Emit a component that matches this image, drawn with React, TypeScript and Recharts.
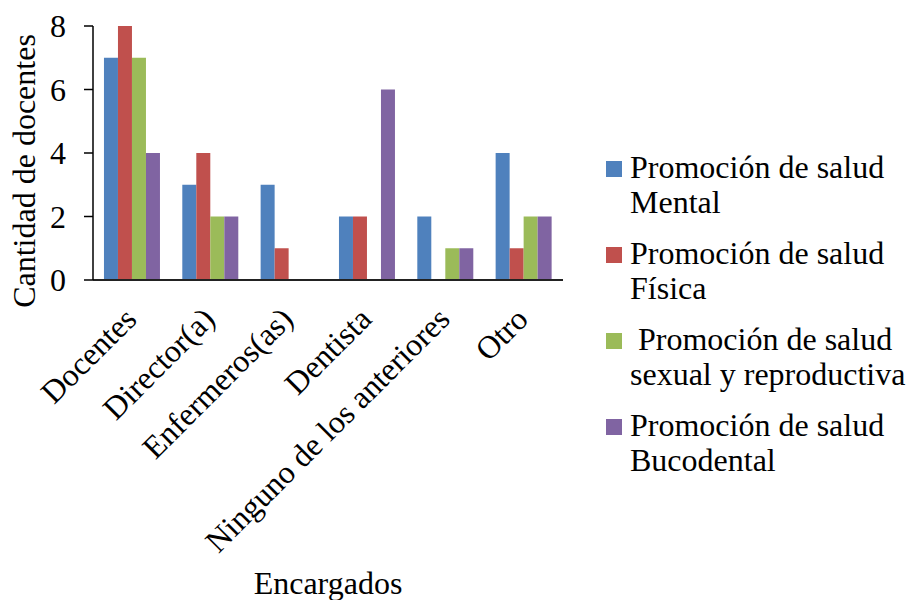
import { BarChart, Bar, XAxis, YAxis, Legend } from "recharts";

const categories = [
  "Docentes",
  "Director(a)",
  "Enfermeros(as)",
  "Dentista",
  "Ninguno de los anteriores",
  "Otro",
];
const mental = [7, 3, 3, 2, 2, 4];
const fisica = [8, 4, 1, 2, 0, 1];
const sexual = [7, 2, 0, 0, 1, 2];
const bucodental = [4, 2, 0, 6, 1, 2];
const yTicks = [0, 2, 4, 6, 8];

const SERIES = [
  { key: "mental", name: "Promoción de salud\nMental", color: "#4F81BD" },
  { key: "fisica", name: "Promoción de salud\nFísica", color: "#C0504D" },
  { key: "sexual", name: " Promoción de salud\nsexual y reproductiva", color: "#9BBB59" },
  { key: "bucodental", name: "Promoción de salud\nBucodental", color: "#8064A2" },
];

const FONT = "'Liberation Serif', 'Tinos', 'Times New Roman', 'DejaVu Serif', serif";
const FS = 32;

const rows = categories.map((c, i) => ({
  label: c,
  mental: mental[i],
  fisica: fisica[i],
  sexual: sexual[i],
  bucodental: bucodental[i],
}));

function XTick({ x, y, payload }: any) {
  const tx = x - 10;
  const ty = y + 25;
  return (
    <text
      x={tx}
      y={ty}
      dy="0.71em"
      transform={`rotate(-45, ${tx}, ${ty})`}
      textAnchor="end"
      style={{ fontFamily: FONT }}
      fontSize={FS}
      fill="#000"
    >
      {payload.value}
    </text>
  );
}

function YTitle({ viewBox }: any) {
  const cx = viewBox.x + 35;
  const cy = viewBox.y + viewBox.height / 2 + 18;
  return (
    <text
      x={cx}
      y={cy}
      transform={`rotate(-90, ${cx}, ${cy})`}
      textAnchor="middle"
      style={{ fontFamily: FONT }}
      fontSize={FS}
      fill="#000"
    >
      Cantidad de docentes
    </text>
  );
}

function LegendBox() {
  return (
    <div style={{ fontFamily: FONT, fontSize: FS, lineHeight: "35px", color: "#000" }}>
      {SERIES.map((s) => (
        <div key={s.key} style={{ display: "flex", alignItems: "flex-start", marginBottom: 16 }}>
          <div
            style={{
              width: 16,
              height: 16,
              background: s.color,
              marginTop: 11,
              marginRight: 8,
              flexShrink: 0,
            }}
          />
          <div style={{ whiteSpace: "pre" }}>{s.name}</div>
        </div>
      ))}
    </div>
  );
}

export default function App() {
  return (
    <div
      style={{
        position: "absolute",
        left: 0,
        top: 0,
        width: 908,
        height: 600,
        background: "#fff",
        fontFamily: FONT,
      }}
    >
      <BarChart
        width={908}
        height={600}
        data={rows}
        margin={{ top: 26, right: 345, left: 0, bottom: 0 }}
        barGap={0}
        barCategoryGap="14%"
        style={{ fontFamily: FONT }}
      >
        <XAxis
          dataKey="label"
          interval={0}
          height={320}
          tickLine={false}
          tickSize={0}
          tickMargin={0}
          tick={<XTick />}
          axisLine={{ stroke: "#222", strokeWidth: 2 }}
          label={{
            value: "Encargados",
            position: "insideBottom",
            offset: 6,
            fill: "#000",
            fontSize: FS,
            style: { fontFamily: FONT },
          }}
        />
        <YAxis
          width={93}
          domain={[0, 8]}
          ticks={yTicks}
          interval={0}
          tickSize={9}
          tickMargin={18}
          tick={{ fill: "#000", fontSize: FS, style: { fontFamily: FONT } }}
          tickLine={{ stroke: "#000", strokeWidth: 1.5 }}
          axisLine={{ stroke: "#000", strokeWidth: 1.5 }}
          label={<YTitle />}
        />
        <Legend
          layout="vertical"
          align="center"
          verticalAlign="middle"
          content={<LegendBox />}
          wrapperStyle={{ left: 606, top: 150, width: 302 }}
        />
        {SERIES.map((s) => (
          <Bar
            key={s.key}
            dataKey={s.key}
            name={s.name}
            fill={s.color}
            isAnimationActive={false}
          />
        ))}
      </BarChart>
    </div>
  );
}
